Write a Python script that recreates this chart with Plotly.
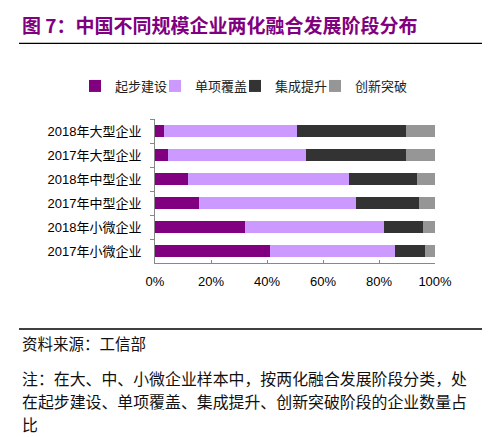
import plotly.graph_objects as go

categories = ["2018年大型企业", "2017年大型企业", "2018年中型企业",
              "2017年中型企业", "2018年小微企业", "2017年小微企业"]
series_names = ["起步建设", "单项覆盖", "集成提升", "创新突破"]
qibu = [3.3, 4.7, 11.8, 15.8, 32.3, 40.9]
danxiang = [47.4, 49.3, 57.4, 56.0, 49.4, 44.8]
jicheng = [38.9, 35.6, 24.5, 22.6, 14.0, 10.6]
chuangxin = [10.4, 10.4, 6.3, 5.6, 4.3, 3.7]
series_values = [qibu, danxiang, jicheng, chuangxin]
colors = ["#800080", "#CC99FF", "#333333", "#969696"]
x_tickvals = [0, 20, 40, 60, 80, 100]
x_ticktext = ["0%", "20%", "40%", "60%", "80%", "100%"]

title_text = "图 7：中国不同规模企业两化融合发展阶段分布"
source_text = "资料来源：工信部"
note_lines = ["注：在大、中、小微企业样本中，按两化融合发展阶段分类，处",
              "在起步建设、单项覆盖、集成提升、创新突破阶段的企业数量占",
              "比"]

W, H = 502, 437
def px(x):
    return x / W
def py(y):
    return 1 - y / H

CJK = "Liberation Sans, Arial, Noto Sans CJK SC, sans-serif"

legend_ids = ["legend", "legend2", "legend3", "legend4"]
legend_left = [75, 155, 235, 315]

fig = go.Figure()
for name, vals, col, lid in zip(series_names, series_values, colors, legend_ids):
    fig.add_trace(go.Bar(
        y=categories, x=vals, name=name, orientation="h",
        marker=dict(color=col, line=dict(width=0)),
        legend=lid, hoverinfo="x+y+name",
    ))

legend_common = dict(orientation="h", yanchor="middle", xanchor="left",
                     font=dict(family=CJK, size=13, color="#222222"),
                     itemwidth=30, bgcolor="rgba(0,0,0,0)", borderwidth=0)

fig.update_layout(
    width=W, height=H, autosize=False,
    margin=dict(l=0, r=0, t=0, b=0, pad=0, autoexpand=False),
    paper_bgcolor="white", plot_bgcolor="white",
    barmode="stack", bargap=0.54,
    font=dict(family=CJK, size=13, color="#000000"),
    showlegend=True,
    xaxis=dict(domain=[px(155), px(435)], range=[0, 100],
               tickvals=x_tickvals, ticktext=x_ticktext,
               showgrid=False, zeroline=False, automargin=False,
               showline=True, linecolor="#888888", linewidth=1,
               ticks="inside", ticklen=3, tickcolor="#888888",
               ticklabelstandoff=6,
               tickfont=dict(size=13, color="#000000"),
               fixedrange=True),
    yaxis=dict(domain=[py(263), py(119)], autorange="reversed",
               type="category", categoryorder="array", categoryarray=categories,
               showgrid=False, zeroline=False, automargin=False,
               showline=True, linecolor="#888888", linewidth=1,
               ticks="outside", ticklen=4, tickcolor="#888888",
               tickson="boundaries", ticklabelstandoff=10,
               tickfont=dict(size=13, color="#000000"),
               fixedrange=True),
)
for lid, lx in zip(legend_ids, legend_left):
    fig.update_layout({lid: dict(legend_common, x=px(lx), y=py(86))})

# Title
fig.add_annotation(x=px(20), y=py(24), xref="paper", yref="paper",
                   xanchor="left", yanchor="middle", showarrow=False,
                   text="<b>" + title_text + "</b>",
                   font=dict(family="Noto Sans CJK SC", size=19, color="#800080"))
# Lines
fig.add_shape(type="line", xref="paper", yref="paper",
              x0=px(19), x1=px(482), y0=py(43.3), y1=py(43.3),
              line=dict(color="#000000", width=1.3))
fig.add_shape(type="line", xref="paper", yref="paper",
              x0=px(19), x1=px(482), y0=py(329), y1=py(329),
              line=dict(color="#000000", width=1.3))
# Source
fig.add_annotation(x=px(20), y=py(343), xref="paper", yref="paper",
                   xanchor="left", yanchor="middle", showarrow=False,
                   text=source_text,
                   font=dict(family="Noto Sans CJK SC", size=15.5, color="#111111"))
for i, line in enumerate(note_lines):
    fig.add_annotation(x=px(20), y=py(378.5 + 23 * i), xref="paper", yref="paper",
                       xanchor="left", yanchor="middle", showarrow=False,
                       text=line,
                       font=dict(family="Noto Sans CJK SC", size=15.9, color="#111111"))

fig.write_html("out.html",
               config={"displayModeBar": False, "responsive": False},
               post_script=("document.body.style.margin='0';"
                            "document.body.style.overflow='hidden';"))
